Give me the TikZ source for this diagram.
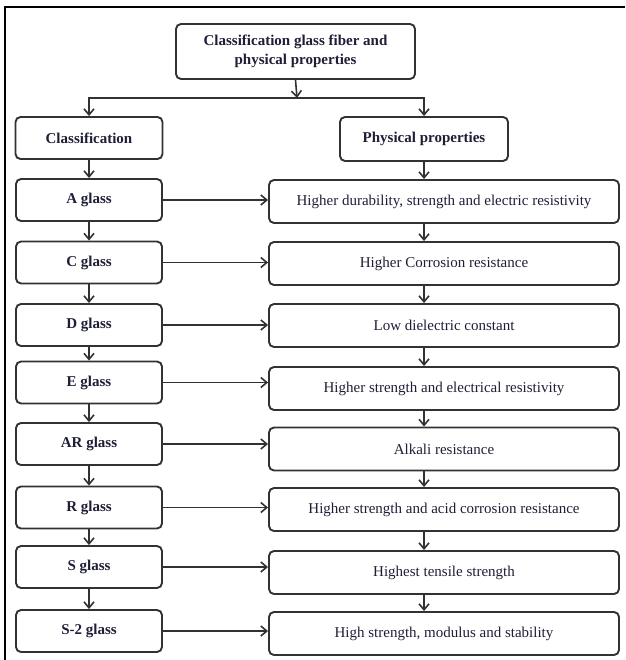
\documentclass[tikz,border=0pt]{standalone}
\usepackage{fontspec}
\setmainfont{Liberation Serif}
\usepackage{xcolor}
\usetikzlibrary{arrows.meta}

\definecolor{boxc}{RGB}{50,50,50}
\definecolor{textc}{RGB}{30,30,55}

\begin{document}
\begin{tikzpicture}[x=1pt, y=-1pt, >={Straight Barb[length=6pt,width=10pt]},
  box/.style={draw=boxc, line width=1.9pt, rounded corners=5pt, inner sep=0pt,
    text=textc, align=center, font=\fontsize{15}{19}\selectfont},
  bbox/.style={box, font=\fontsize{15}{19}\selectfont\bfseries},
  lbox/.style={bbox, minimum width=146pt, minimum height=42pt},
  rbox/.style={box, minimum width=350pt, minimum height=43pt},
  arr/.style={->, draw=boxc, line width=1.6pt}]
  \useasboundingbox (0,0) rectangle (625,660);
  % frame
  \draw[line width=2pt] (625,7) -- (5,7) -- (5,660);
  % headers
  \node[bbox, minimum width=239pt, minimum height=55pt] (top) at (295.5,51.5)
    {Classification glass fiber and\\physical properties};
  \node[lbox, minimum width=147pt] (cls) at (89,138) {Classification};
  \node[bbox, minimum width=168pt, minimum height=44pt] (phys) at (424,139) {Physical properties};
  \coordinate (fork) at (297,98);
  \draw[arr] (top.south) -- (fork);
  \draw[arr] (fork) -| (cls.north);
  \draw[arr] (fork) -| (phys.north);
  % glass types
  \node[lbox] (ga)    at (89,200)   {A glass};
  \node[lbox] (gc)    at (89,262.5) {C glass};
  \node[lbox] (gd)    at (89,325)   {D glass};
  \node[lbox] (ge)    at (89,382.5) {E glass};
  \node[lbox] (gar)   at (89,444)   {AR glass};
  \node[lbox] (gr)    at (89,507.5) {R glass};
  \node[lbox] (gs)    at (89,567)   {S glass};
  \node[lbox] (gstwo) at (89,631)   {S-2 glass};
  % properties
  \node[rbox] (pa)    at (444,201.5) {Higher durability, strength and electric resistivity};
  \node[rbox] (pc)    at (444,263.5) {Higher Corrosion resistance};
  \node[rbox] (pd)    at (444,325.5) {Low dielectric constant};
  \node[rbox] (pe)    at (444,388.5) {Higher strength and electrical resistivity};
  \node[rbox] (par)   at (444,449)   {Alkali resistance};
  \node[rbox] (pr)    at (444,509.5) {Higher strength and acid corrosion resistance};
  \node[rbox] (ps)    at (444,572.5) {Highest tensile strength};
  \node[rbox] (pstwo) at (444,633.5) {High strength, modulus and stability};
  % chains
  \foreach \u/\v in {cls/ga, ga/gc, gc/gd, gd/ge, ge/gar, gar/gr, gr/gs, gs/gstwo}
    \draw[arr] (\u.south) -- (\u.south |- \v.north);
  \foreach \u/\v in {phys/pa, pa/pc, pc/pd, pd/pe, pe/par, par/pr, pr/ps, ps/pstwo}
    \draw[arr] (phys.south |- \u.south) -- (phys.south |- \v.north);
  \foreach \u/\v in {ga/pa, gc/pc, gd/pd, ge/pe, gar/par, gr/pr, gs/ps, gstwo/pstwo}
    \draw[arr] (\u.east) -- (\u.east -| \v.west);
\end{tikzpicture}
\end{document}
